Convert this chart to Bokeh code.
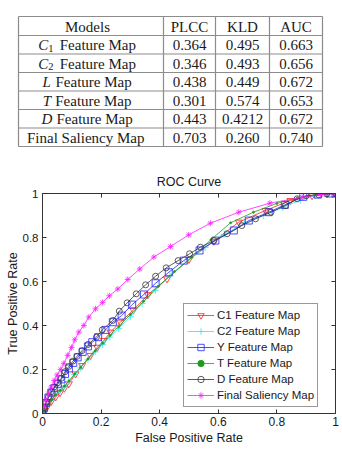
from bokeh.plotting import figure
from bokeh.layouts import column
from bokeh.models import Range1d, FixedTicker, LinearAxis, Legend, LegendItem
from bokeh.core.properties import value
from bokeh.embed import file_html
from bokeh.resources import INLINE

# ---------------- table data ----------------
table_header = ["Models", "PLCC", "KLD", "AUC"]
model_var = ["C", "C", "L", "T", "D", ""]
model_sub = ["1", "2", "", "", "", ""]
model_rest = ["Feature Map", "Feature Map", "Feature Map", "Feature Map", "Feature Map", "Final Saliency Map"]
plcc = ["0.364", "0.346", "0.438", "0.301", "0.443", "0.703"]
kld = ["0.495", "0.493", "0.449", "0.574", "0.4212", "0.260"]
auc = ["0.663", "0.656", "0.672", "0.653", "0.672", "0.740"]

# ---------------- ROC data ----------------
c1_fpr = [0, 0.008, 0.018, 0.03, 0.045, 0.06, 0.075, 0.09, 0.113, 0.135, 0.164, 0.187, 0.209, 0.232,
          0.266, 0.31, 0.36, 0.425, 0.5, 0.585, 0.67, 0.761, 0.846, 0.92, 0.97, 1.0]
c1_tpr = [0, 0.015, 0.035, 0.055, 0.075, 0.095, 0.115, 0.135, 0.18, 0.218, 0.264, 0.301, 0.332, 0.37,
          0.415, 0.47, 0.54, 0.612, 0.70, 0.783, 0.87, 0.923, 0.968, 0.99, 0.998, 1.0]

c2_fpr = [0, 0.008, 0.018, 0.03, 0.045, 0.06, 0.075, 0.09, 0.11, 0.13, 0.155, 0.18, 0.205, 0.23, 0.26,
          0.3, 0.34, 0.385, 0.435, 0.494, 0.555, 0.62, 0.69, 0.755, 0.82, 0.88, 0.93, 0.97, 1.0]
c2_tpr = [0, 0.017, 0.038, 0.06, 0.082, 0.103, 0.124, 0.145, 0.177, 0.207, 0.244, 0.28, 0.313, 0.347,
          0.386, 0.44, 0.5, 0.56, 0.625, 0.692, 0.755, 0.815, 0.865, 0.9, 0.937, 0.97, 0.99, 0.997, 1.0]

y_fpr = [0, 0.005, 0.012, 0.02, 0.03, 0.04, 0.052, 0.064, 0.077, 0.09, 0.105, 0.12, 0.137, 0.155, 0.17,
         0.19, 0.215, 0.24, 0.27, 0.306, 0.346, 0.386, 0.431, 0.482, 0.536, 0.59, 0.653, 0.704, 0.772,
         0.827, 0.89, 0.94, 0.983, 1.0]
y_tpr = [0, 0.024, 0.048, 0.072, 0.095, 0.115, 0.135, 0.155, 0.18, 0.205, 0.23, 0.255, 0.28, 0.305,
         0.324, 0.347, 0.38, 0.415, 0.445, 0.495, 0.541, 0.592, 0.642, 0.695, 0.741, 0.786, 0.832,
         0.877, 0.915, 0.948, 0.985, 0.995, 1.0, 1.0]

t_fpr = [0, 0.008, 0.018, 0.03, 0.045, 0.06, 0.075, 0.09, 0.11, 0.13, 0.155, 0.18, 0.205, 0.23, 0.26,
         0.3, 0.345, 0.395, 0.45, 0.51, 0.575, 0.642, 0.72, 0.8, 0.87, 0.93, 0.97, 1.0]
t_tpr = [0, 0.018, 0.04, 0.062, 0.085, 0.105, 0.125, 0.148, 0.18, 0.21, 0.248, 0.285, 0.32, 0.355,
         0.395, 0.45, 0.51, 0.578, 0.645, 0.71, 0.79, 0.867, 0.915, 0.955, 0.98, 0.993, 0.998, 1.0]

d_fpr = [0, 0.005, 0.012, 0.02, 0.03, 0.04, 0.052, 0.064, 0.077, 0.09, 0.104, 0.118, 0.135, 0.156,
         0.184, 0.204, 0.24, 0.262, 0.289, 0.32, 0.352, 0.386, 0.422, 0.463, 0.502, 0.539, 0.585, 0.63,
         0.68, 0.727, 0.78, 0.829, 0.869, 0.9, 0.943, 0.97, 1.0]
d_tpr = [0, 0.025, 0.05, 0.075, 0.1, 0.12, 0.14, 0.16, 0.19, 0.214, 0.238, 0.26, 0.286, 0.314, 0.347,
         0.38, 0.423, 0.465, 0.503, 0.544, 0.585, 0.624, 0.662, 0.695, 0.726, 0.756, 0.786, 0.817,
         0.854, 0.885, 0.915, 0.945, 0.976, 0.99, 0.994, 0.998, 1.0]

f_fpr = [0, 0.005, 0.012, 0.02, 0.03, 0.04, 0.05, 0.062, 0.073, 0.086, 0.099, 0.110, 0.124, 0.141,
         0.158, 0.181, 0.205, 0.228, 0.257, 0.291, 0.332, 0.38, 0.437, 0.499, 0.573, 0.67, 0.776,
         0.886, 0.95, 1.0]
f_tpr = [0, 0.03, 0.06, 0.09, 0.12, 0.15, 0.175, 0.2, 0.228, 0.264, 0.30, 0.335, 0.37, 0.40, 0.438,
         0.476, 0.505, 0.535, 0.566, 0.609, 0.657, 0.711, 0.759, 0.812, 0.865, 0.915, 0.956, 0.983,
         0.995, 1.0]

tick_vals = [0, 0.2, 0.4, 0.6, 0.8, 1.0]
tick_text = ["0", "0.2", "0.4", "0.6", "0.8", "1"]

SERIF = "Liberation Serif"
SANS = "Liberation Sans"
TXT = "#1a1a1a"

W = 342
TH = 165

# ---------------- table figure (coordinates in page pixels) ----------------
tab = figure(width=W, height=TH, x_range=Range1d(0, W), y_range=Range1d(TH, 0),
             x_axis_location=None, y_axis_location=None,
             output_backend="svg", toolbar_location=None, min_border=0)
tab.frame_align = False
tab.grid.visible = False
tab.outline_line_color = None

col_edges = [18, 163, 215, 269, 322]
row_edges = [16, 35, 53.5, 72, 90.5, 109, 127.5, 146]
gcol = "#8c8c8c"
tab.segment(x0=col_edges, y0=[row_edges[0]] * len(col_edges), x1=col_edges,
            y1=[row_edges[-1]] * len(col_edges), line_color=gcol, line_width=1.2)
tab.segment(x0=[col_edges[0]] * len(row_edges), y0=row_edges, x1=[col_edges[-1]] * len(row_edges),
            y1=row_edges, line_color=gcol, line_width=1.2)

fs = "15px"
col_centers = [(col_edges[i] + col_edges[i + 1]) / 2 for i in range(4)]
row_centers = [(row_edges[i] + row_edges[i + 1]) / 2 + 0.5 for i in range(7)]
tab.text(x=[87] + col_centers[1:], y=[row_centers[0]] * 4, text=table_header,
         text_font=value(SERIF), text_font_size=fs, text_align="center",
         text_baseline="middle", text_color=TXT)
for j, vals in enumerate([plcc, kld, auc]):
    tab.text(x=[col_centers[j + 1]] * 6, y=row_centers[1:], text=vals,
             text_font=value(SERIF), text_font_size=fs, text_align="center",
             text_baseline="middle", text_color=TXT)

# model labels: italic variable + subscript + rest, centred around x=87
rest_w = {"Feature Map": 77.0, "Final Saliency Map": 121.0}
var_w = {"C": 10.5, "L": 9.0, "T": 8.5, "D": 11.0, "": 0.0}
vx, vy, vt, sx, sy, st, rx = [], [], [], [], [], [], []
for i, (v, s, r) in enumerate(zip(model_var, model_sub, model_rest)):
    wv = var_w[v] + (7.0 if s else 0.0) + (4.0 if v else 0.0)
    start = 87 - (wv + rest_w[r]) / 2
    if v:
        vx.append(start); vy.append(row_centers[i + 1]); vt.append(v)
    if s:
        sx.append(start + var_w[v] - 0.5); sy.append(row_centers[i + 1] + 3); st.append(s)
    rx.append(start + wv)
tab.text(x=vx, y=vy, text=vt, text_font=value(SERIF),
         text_font_size=fs, text_font_style="italic", text_align="left",
         text_baseline="middle", text_color=TXT)
tab.text(x=sx, y=sy, text=st, text_font=value(SERIF),
         text_font_size="10.5px", text_align="left", text_baseline="middle", text_color=TXT)
tab.text(x=rx, y=row_centers[1:], text=model_rest, text_font=value(SERIF),
         text_font_size=fs, text_align="left", text_baseline="middle", text_color=TXT)

# ---------------- ROC figure ----------------
p = figure(width=W, height=451 - TH, x_range=Range1d(0, 1), y_range=Range1d(0, 1),
           output_backend="svg", toolbar_location=None,
           min_border_left=42, min_border_right=7, min_border_top=28, min_border_bottom=38,
           title="ROC Curve")
p.frame_align = False
p.title.align = "center"
p.title.text_font = SANS
p.title.text_font_size = "12.5px"
p.title.text_font_style = "normal"
p.title.text_color = TXT
p.grid.visible = False
p.outline_line_color = "#333333"

overrides = {v: t for v, t in zip(tick_vals, tick_text)}
for ax in [p.xaxis[0], p.yaxis[0]]:
    ax.ticker = FixedTicker(ticks=tick_vals)
    ax.major_label_overrides = overrides
    ax.major_tick_in = 4
    ax.major_tick_out = 0
    ax.minor_tick_line_color = None
    ax.major_label_text_font = SANS
    ax.major_label_text_font_size = "12px"
    ax.major_label_text_color = TXT
    ax.axis_label_text_font = SANS
    ax.axis_label_text_font_size = "12.5px"
    ax.axis_label_text_font_style = "normal"
    ax.axis_label_text_color = TXT
    ax.axis_line_color = "#333333"
    ax.major_tick_line_color = "#333333"
p.xaxis.axis_label = "False Positive Rate"
p.yaxis.axis_label = "True Positive Rate"
p.yaxis.major_label_text_font_size = "11.5px"
p.xaxis.major_label_standoff = 3
p.yaxis.major_label_standoff = 4
p.xaxis.axis_label_standoff = 2
p.yaxis.axis_label_standoff = 0

for loc in ["above", "right"]:
    ax = LinearAxis(ticker=FixedTicker(ticks=[], minor_ticks=tick_vals),
                    minor_tick_in=4, minor_tick_out=0, minor_tick_line_color="#333333",
                    major_tick_line_color=None, axis_line_color="#333333")
    p.add_layout(ax, loc)

lw = 0.8
series = [
    ("C1 Feature Map", c1_fpr, c1_tpr, "#ff2020", "inverted_triangle", 7, False),
    ("C2 Feature Map", c2_fpr, c2_tpr, "#30e8e8", "cross", 7, False),
    ("Y Feature Map", y_fpr, y_tpr, "#2020ff", "square", 7, False),
    ("T Feature Map", t_fpr, t_tpr, "#1e9a1e", "circle", 2, True),
    ("D Feature Map", d_fpr, d_tpr, "#333333", "circle", 6, False),
    ("Final Saliency Map", f_fpr, f_tpr, "#ff20ff", "asterisk", 6, False),
]
items = []
for name, xs, ys, colr, mk, sz, filled in series:
    r1 = p.line(xs, ys, line_color=colr, line_width=lw)
    r2 = p.scatter(xs, ys, marker=mk, size=sz, line_color=colr, line_width=0.8,
                   fill_color=colr if filled else None)
    items.append(LegendItem(label=name, renderers=[r1, r2]))

legend = Legend(items=items, location=(141, 6), border_line_color="#333333",
                border_line_width=1, background_fill_color="white", background_fill_alpha=1,
                label_text_font=SANS, label_text_font_size="11.5px", label_text_color=TXT,
                glyph_width=27, glyph_height=16, label_height=16, label_standoff=3,
                padding=3, spacing=0, margin=0)
p.add_layout(legend, "center")

layout = column(tab, p, spacing=0)
open("out.html", "w").write(file_html(layout, INLINE))
